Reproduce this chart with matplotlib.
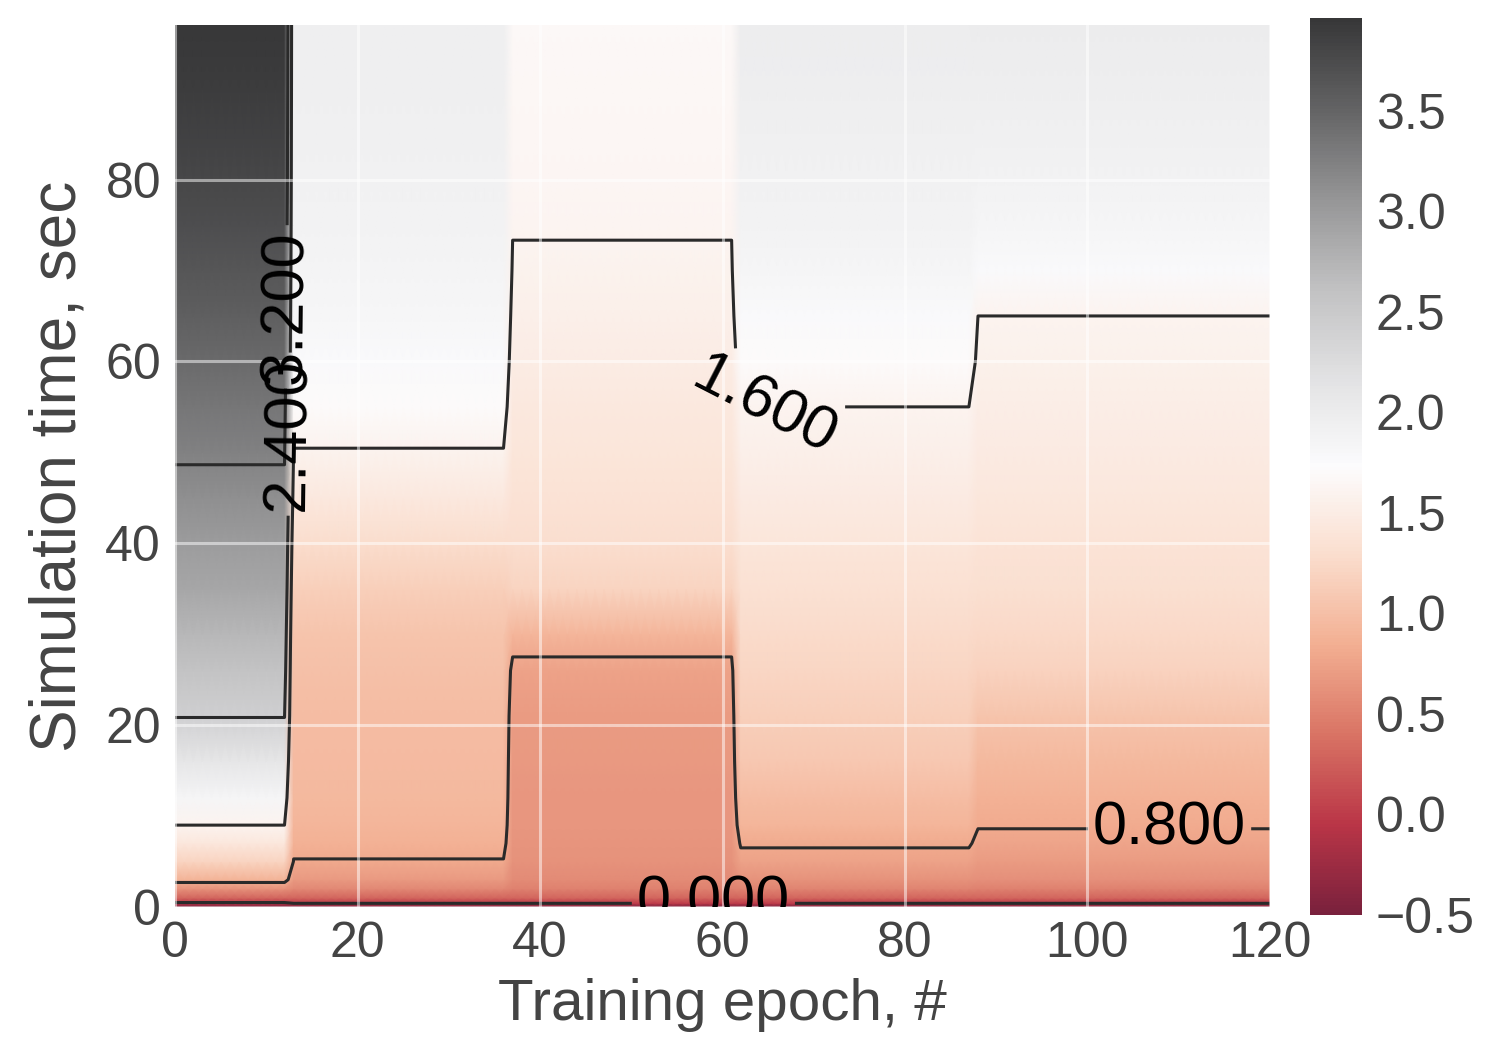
import numpy as np
import matplotlib
matplotlib.use("Agg")
from matplotlib import pyplot as plt
from matplotlib.colors import ListedColormap, to_rgb

# --- data ---
# first epoch of each training stage (value is constant over epochs within a stage)
stage_start = [0, 13, 37, 62, 88]
epochs = np.arange(0, 121)

# simulation time samples, sec
sim_time = [0, 0.4, 1, 2, 3, 5, 7, 9, 12, 16, 21, 26, 30, 35, 40,
            45, 50, 55, 60, 65, 70, 75, 80, 90, 97]

# value profile along simulation time for every stage
stage1 = [-0.5, -0.05, 0.3, 0.62, 0.88, 1.2, 1.42, 1.6, 1.85, 2.1, 2.41, 2.6, 2.72,
          2.88, 3.0, 3.12, 3.23, 3.34, 3.45, 3.55, 3.64, 3.72, 3.8, 3.9, 3.96]
stage2 = [-0.5, 0.0, 0.3, 0.55, 0.68, 0.79, 0.86, 0.9, 0.93, 0.95, 0.97, 1.0, 1.05,
          1.15, 1.28, 1.45, 1.59, 1.7, 1.77, 1.82, 1.86, 1.89, 1.91, 1.94, 1.95]
stage3 = [-0.5, 0.0, 0.3, 0.5, 0.58, 0.62, 0.64, 0.65, 0.66, 0.67, 0.69, 0.74, 0.9,
          1.2, 1.3, 1.36, 1.41, 1.45, 1.5, 1.54, 1.58, 1.61, 1.63, 1.66, 1.67]
stage4 = [-0.5, 0.0, 0.3, 0.52, 0.63, 0.74, 0.82, 0.9, 0.98, 1.07, 1.15, 1.22, 1.27,
          1.33, 1.4, 1.47, 1.54, 1.6, 1.7, 1.78, 1.85, 1.89, 1.92, 1.96, 1.98]
stage5 = [-0.5, 0.0, 0.3, 0.5, 0.6, 0.7, 0.76, 0.81, 0.86, 0.93, 1.05, 1.18, 1.25,
          1.32, 1.38, 1.43, 1.48, 1.52, 1.56, 1.6, 1.78, 1.85, 1.9, 1.96, 2.0]

levels = [0.0, 0.8, 1.6, 2.4, 3.2]
x_ticks = [0, 20, 40, 60, 80, 100, 120]
y_ticks = [0, 20, 40, 60, 80]
cbar_ticks = [-0.5, 0.0, 0.5, 1.0, 1.5, 2.0, 2.5, 3.0, 3.5]

profiles = np.array([stage1, stage2, stage3, stage4, stage5])
stage_of_epoch = np.searchsorted(stage_start, epochs, side="right") - 1
Z = profiles[stage_of_epoch].T

plt.style.use("seaborn-v0_8-darkgrid")
plt.rcParams["font.family"] = ["Liberation Sans", "DejaVu Sans"]

# RdGy faded a little towards the darkgrid background, like a translucent mesh
base = plt.get_cmap("RdGy")(np.linspace(0, 1, 256))[:, :3]
bg = np.array(to_rgb("#EAEAF2"))
cmap = ListedColormap(0.86 * base + 0.14 * bg)

fig = plt.figure(figsize=(7.46, 5.185), dpi=200)
ax = fig.add_axes([0.1173, 0.1254, 0.7339, 0.8505])
cax = fig.add_axes([0.878, 0.1176, 0.0349, 0.865])

mesh = ax.pcolormesh(epochs, sim_time, Z, cmap=cmap, shading="gouraud", rasterized=True)
cs = ax.contour(epochs, sim_time, Z, levels=levels, colors="#2a2a2a", linewidths=1.1)
ax.clabel(cs, fmt="%1.3f", fontsize=22, colors="k",
          manual=[(59, 0.4), (109, 8.8), (64.5, 56.5), (12.6, 52), (12.1, 66)])

ax.set_axisbelow(False)
ax.grid(True, color="white", alpha=0.5, linewidth=1.1)
ax.set_xlim(0, 120)
ax.set_ylim(0, 97)
ax.set_xticks(x_ticks)
ax.set_yticks(y_ticks)
ax.tick_params(labelsize=18, colors="#444444", pad=5)
ax.set_xlabel("Training epoch, #", fontsize=21, color="#444444", labelpad=4)
ax.set_ylabel("Simulation time, sec", fontsize=23, color="#444444", labelpad=6)
for s in ax.spines.values():
    s.set_visible(False)

cb = fig.colorbar(mesh, cax=cax, ticks=cbar_ticks)
cb.outline.set_visible(False)
cax.tick_params(labelsize=18, colors="#444444", length=0, pad=5)
cax.grid(False)

fig.savefig("out.png", dpi=200)
